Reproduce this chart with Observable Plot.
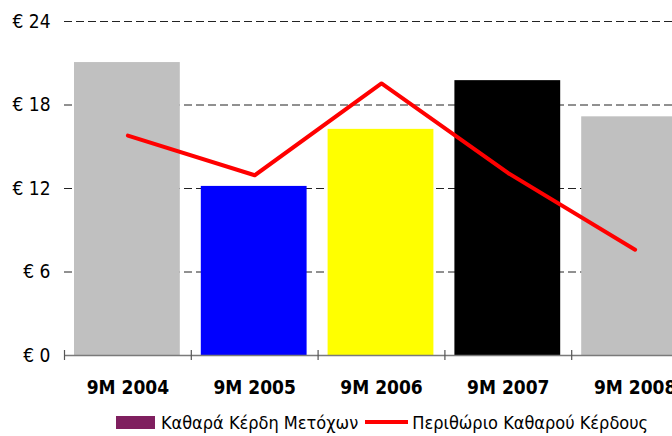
<!DOCTYPE html>
<html>
<head>
<meta charset="utf-8">
<script src="https://cdn.jsdelivr.net/npm/d3@7"></script>
<script src="https://cdn.jsdelivr.net/npm/@observablehq/plot@0.6"></script>
<style>
  html, body { margin: 0; padding: 0; background: #fff; overflow: hidden; width: 672px; height: 436px; }
  #chart { width: 700px; }
  #chart svg { max-width: none !important; display: block; }
  .legend { display: flex; justify-content: center; align-items: center; width: 636px; padding-left: 64px; height: 24px; margin-top: 12px; font-family: "DejaVu Sans Condensed", "DejaVu Sans", sans-serif; font-size: 18px; color: #000; white-space: nowrap; }
  .sw-bar { width: 39px; height: 13px; background: #7f1f5f; margin-right: 6px; flex: none; }
  .sw-line { width: 43px; height: 4px; background: #ff0000; margin: 0 4px 0 7px; flex: none; }
</style>
</head>
<body>
<div id="chart"></div>
<div class="legend">
  <span class="sw-bar"></span><span id="lab1"></span>
  <span class="sw-line"></span><span id="lab2"></span>
</div>
<script>
const categories = ["9M 2004", "9M 2005", "9M 2006", "9M 2007", "9M 2008"];
const profits = [21.05, 12.15, 16.25, 19.75, 17.15];
const marginLine = [15.8, 12.95, 19.55, 13.1, 7.6];
const barColors = ["#c0c0c0", "#0000ff", "#ffff00", "#000000", "#c0c0c0"];
const yTicks = [0, 6, 12, 18, 24];
const seriesNames = ["Καθαρά Κέρδη Μετόχων", "Περιθώριο Καθαρού Κέρδους"];

document.getElementById("lab1").textContent = seriesNames[0];
document.getElementById("lab2").textContent = seriesNames[1];

const data = categories.map((c, i) => ({category: c, i, profit: profits[i], margin: marginLine[i]}));

const font = '"DejaVu Sans Condensed", "DejaVu Sans", sans-serif';

const chart = Plot.plot({
  width: 700,
  height: 398,
  marginLeft: 64,
  marginRight: 2,
  marginTop: 21,
  marginBottom: 43,
  style: {fontFamily: font, background: "#fff"},
  x: {domain: [0, categories.length], axis: null},
  y: {domain: [0, 24], axis: null},
  color: {domain: categories, range: barColors},
  marks: [
    Plot.ruleY(yTicks.filter(d => d > 0), {stroke: "#222", strokeWidth: 1, strokeDasharray: "8,4"}),
    Plot.rectY(data, {x1: d => d.i, x2: d => d.i + 1, y: "profit", fill: "category", insetLeft: 10, insetRight: 11}),
    Plot.ruleY([0], {stroke: "#7a7a7a", strokeWidth: 1.5}),
    Plot.axisX({ticks: d3.range(categories.length + 1), tickFormat: () => "", tickSize: 10, dy: -5, stroke: "#555", strokeWidth: 1.2}),
    Plot.line(data, {x: d => d.i + 0.5, y: "margin", stroke: "#ff0000", strokeWidth: 4, strokeLinejoin: "round", strokeLinecap: "round"}),
    Plot.text(yTicks, {x: 0, y: d => d, text: d => "€ " + d, textAnchor: "end", dx: -14, fontSize: 19, fill: "#000"}),
    Plot.text(data, {x: d => d.i + 0.5, y: 0, text: "category", dy: 32, fontSize: 19, fontWeight: "bold", fill: "#000"})
  ]
});
document.getElementById("chart").appendChild(chart);
</script>
</body>
</html>
